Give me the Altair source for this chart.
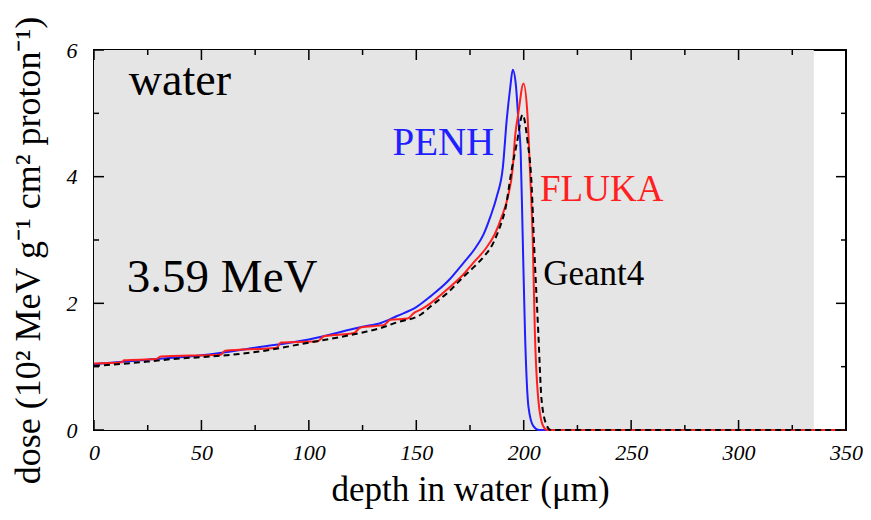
import altair as alt
import pandas as pd

# ---- data ----
penh_depth = [0, 25, 50, 75, 100, 125, 133.5, 141, 150, 156.6, 165, 172, 177, 181.3, 184.5, 187.5,
              190.3, 192.1, 193.7, 194.9, 196.4, 197.5, 198.6, 199.5, 200.6, 202.2, 204.5, 207, 350]
penh_dose = [1.04, 1.11, 1.18, 1.30, 1.43, 1.63, 1.69, 1.80, 1.94, 2.11, 2.36, 2.64, 2.85, 3.09, 3.37, 3.69,
             4.15, 4.90, 5.40, 5.69, 5.43, 4.90, 4.37, 3.10, 1.53, 0.37, 0.06, 0.0, 0.0]

fluka_depth = [0, 13, 14, 29, 31, 59, 61, 85, 87, 104, 107, 121, 124, 135, 138, 146, 149, 152,
               156.6, 165, 172, 176.5, 182, 186.5, 189.8, 192.7, 194.8, 196, 197.5, 199.9, 201.7, 202.9,
               204.2, 205.2, 206.8, 209.1, 211, 350]
fluka_dose = [1.05, 1.07, 1.10, 1.12, 1.16, 1.19, 1.25, 1.30, 1.38, 1.40, 1.48, 1.53, 1.62, 1.66, 1.74,
              1.76, 1.85, 1.90, 2.00, 2.24, 2.46, 2.64, 2.85, 3.09, 3.37, 3.69, 4.11, 4.64, 5.00, 5.47, 5.00,
              4.11, 3.00, 1.53, 0.48, 0.06, 0.0, 0.0]

geant_depth = [0, 25, 40, 50, 75, 100, 125, 133.5, 141, 152, 156.6, 165, 172, 177, 182, 185, 187.5,
               189.5, 191.4, 194.4, 196.8, 199.5, 201.7, 203.7, 204.8, 206.8, 208.3, 210.6, 212.5, 350]
geant_dose = [1.01, 1.08, 1.13, 1.15, 1.23, 1.38, 1.54, 1.61, 1.70, 1.82, 1.95, 2.18, 2.42, 2.58, 2.76,
              2.90, 3.08, 3.26, 3.48, 4.11, 4.53, 4.98, 4.58, 3.85, 2.95, 1.53, 0.48, 0.08, 0.0, 0.0]

bg_range = [0, 335]

x_major = [0, 50, 100, 150, 200, 250, 300, 350]
x_minor = [25, 75, 125, 175, 225, 275, 325]
y_major = [0, 2, 4, 6]
y_minor = [1, 3, 5]

labels = ["water", "3.59 MeV", "PENH", "FLUKA", "Geant4"]
label_x = [16.2, 15.3, 138.9, 207.6, 209.1]
label_y = [5.29, 2.18, 4.34, 3.61, 2.29]
label_color = ["#000000", "#000000", "#1f1fff", "#ff1f1f", "#000000"]
label_size = [46, 47, 39, 37, 35]

# ---- chart ----
W, H = 752, 380
FONT = "Liberation Serif"
xs = alt.Scale(domain=[0, 350], nice=False, zero=False)
ys = alt.Scale(domain=[0, 6], nice=False)

x_axis = alt.Axis(
    values=x_major, ticks=False, domain=False, grid=False, labelFlush=False,
    labelFont=FONT, labelFontStyle="italic", labelFontSize=22, labelColor="black",
    labelPadding=12, title="depth in water (μm)", titleFont=FONT, titleFontSize=35,
    titleFontWeight="normal", titleColor="black", titleY=70, titleBaseline="alphabetic")
y_axis = alt.Axis(
    values=y_major, ticks=False, domain=False, grid=False, labelFlush=False,
    labelFont=FONT, labelFontStyle="italic", labelFontSize=22, labelColor="black",
    labelPadding=17, title="dose (10² MeV g⁻¹ cm² proton⁻¹)", titleFont=FONT,
    titleFontSize=36, titleFontWeight="normal", titleColor="black",
    titleAngle=270, titleX=-66, titleY=200, titleAlign="center", titleBaseline="middle")


def X(field):
    return alt.X(field, scale=xs, axis=x_axis)


def Y(field):
    return alt.Y(field, scale=ys, axis=y_axis)


bg_df = pd.DataFrame({"x0": [bg_range[0]], "x1": [bg_range[1]], "y0": [0], "y1": [6]})
bg = alt.Chart(bg_df).mark_rect(color="#e5e5e5").encode(
    x=X("x0:Q"), x2="x1:Q", y=Y("y0:Q"), y2="y1:Q",
)


def line(depth, dose, color, dash=None):
    df = pd.DataFrame({"depth": depth, "dose": dose, "idx": list(range(len(depth)))})
    kw = dict(color=color, strokeWidth=2, interpolate="monotone")
    if dash:
        kw["strokeDash"] = dash
    return alt.Chart(df).mark_line(**kw).encode(
        x=X("depth:Q"), y=Y("dose:Q"), order="idx:Q",
    )


blue = line(penh_depth, penh_dose, "#1f1fff")
red = line(fluka_depth, fluka_dose, "#ff1f1f")
black = line(geant_depth, geant_dose, "#000000", [6, 4])

txt_df = pd.DataFrame({"t": labels, "x": label_x, "y": label_y, "c": label_color, "s": label_size})
texts = alt.Chart(txt_df).mark_text(font=FONT, align="left", baseline="alphabetic").encode(
    x=X("x:Q"), y=Y("y:Q"),
    text="t:N",
    color=alt.Color("c:N", scale=None),
    size=alt.Size("s:Q", scale=None),
)


def xticks(vals, length):
    df = pd.DataFrame({"v": vals})
    base = alt.Chart(df).mark_rule(color="black", strokeWidth=1.5)
    bottom = base.encode(x=X("v:Q"), y=alt.value(H), y2=alt.value(H - length))
    top = base.encode(x=X("v:Q"), y=alt.value(0), y2=alt.value(length))
    return bottom + top


def yticks(vals, length):
    df = pd.DataFrame({"v": vals})
    base = alt.Chart(df).mark_rule(color="black", strokeWidth=1.5)
    left = base.encode(y=Y("v:Q"), x=alt.value(0), x2=alt.value(length))
    right = base.encode(y=Y("v:Q"), x=alt.value(W), x2=alt.value(W - length))
    return left + right


chart = alt.layer(
    bg, blue, red, black, texts,
    xticks(x_major, 10), xticks(x_minor, 5), yticks(y_major, 10), yticks(y_minor, 5),
).properties(
    width=W, height=H,
    autosize=alt.AutoSizeParams(type="none"),
    padding={"left": 86, "top": 42, "right": 17, "bottom": 80},
).configure_view(stroke="black", strokeWidth=2, fill="white")

chart.save("out.html", embed_options={"renderer": "svg", "actions": False})
